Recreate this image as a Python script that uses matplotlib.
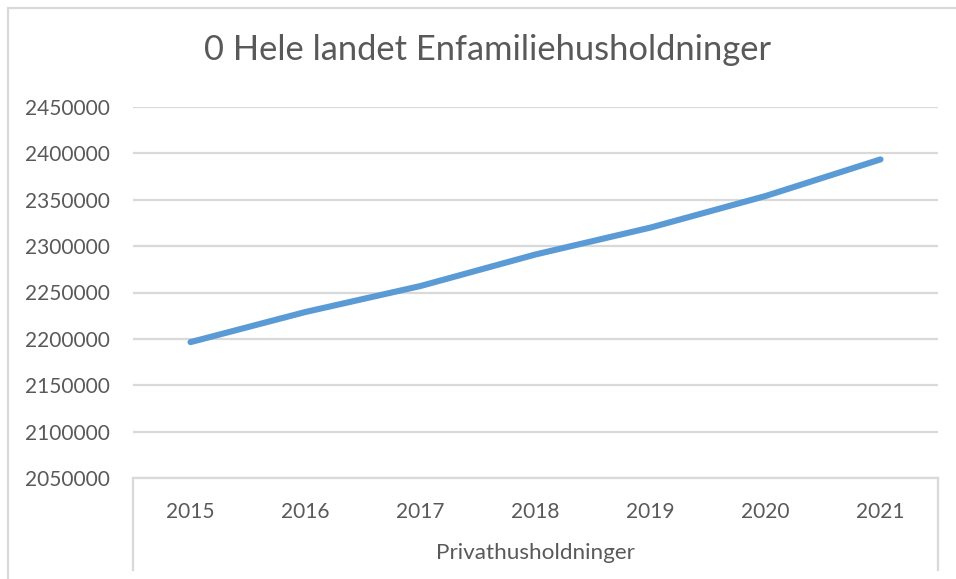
import matplotlib.pyplot as plt
from matplotlib.lines import Line2D
from matplotlib.patches import Rectangle

# data
years = ['2015', '2016', '2017', '2018', '2019', '2020', '2021']
households = [2196500, 2229000, 2257000, 2291000, 2320000, 2354000, 2393500]
yticks = list(range(2050000, 2450001, 50000))
group_label = 'Privathusholdninger'
title = '0 Hele landet Enfamiliehusholdninger'

text_col = '#595959'
grid_col = '#d9d9d9'
line_col = '#5b9bd5'

plt.rcParams['font.family'] = ['Lato', 'DejaVu Sans']

fig = plt.figure(figsize=(9.56, 5.79), dpi=100)
W, H = 956, 579
ax = fig.add_axes([133 / W, 1 - 478 / H, (938 - 133) / W, (478 - 107) / H])

x = list(range(len(years)))
ax.plot(x, households, color=line_col, lw=4.4, solid_capstyle='round', zorder=3)

ax.set_xlim(-0.5, len(years) - 0.5)
ax.set_ylim(yticks[0], yticks[-1])
ax.set_yticks(yticks)
ax.set_yticklabels([str(v) for v in yticks])
ax.grid(axis='y', color=grid_col, lw=1.6)
ax.set_axisbelow(True)
ax.tick_params(axis='y', length=0, pad=17, labelsize=15, labelcolor=text_col)
ax.set_xticks(x)
ax.set_xticklabels(years)
ax.tick_params(axis='x', length=0, pad=17, labelsize=15, labelcolor=text_col)

for s in ['top', 'right', 'left']:
    ax.spines[s].set_visible(False)
ax.spines['bottom'].set_color(grid_col)
ax.spines['bottom'].set_linewidth(1.6)

# category group box below the axis
bot = -(570 - 478) / (478 - 107)
for xx in (0, 1):
    ax.add_line(Line2D([xx, xx], [0, bot], transform=ax.transAxes,
                       color=grid_col, lw=1.6, clip_on=False))
ax.text(0.5, -(553 - 478) / (478 - 107), group_label, transform=ax.transAxes,
        ha='center', va='center', fontsize=16.2, color=text_col)

fig.text(488 / W, 1 - 50 / H, title, ha='center', va='center',
         fontsize=24.8, color=text_col)

# outer chart frame
fig.patches.append(Rectangle((8 / W, -0.1), 1.2, 1 - 8 / H + 0.1,
                             transform=fig.transFigure, fill=False,
                             edgecolor=grid_col, lw=1.6))

fig.savefig('out.png', dpi=100, facecolor='white')
